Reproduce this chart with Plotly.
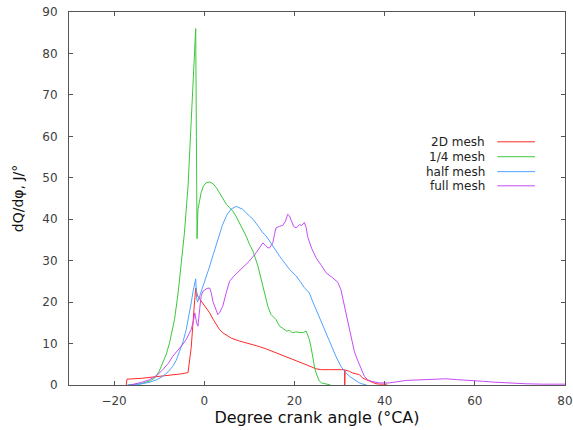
import plotly.graph_objects as go

# Heat release rate vs crank angle for four mesh resolutions
mesh_2d_x = [-17.3, -17.15, -14.0, -11.4, -8.0, -5.0, -3.6, -2.9, -2.3, -1.9, -1.5, -0.5, 0.5, 1.2,
             2.0, 2.6, 3.3, 4.1, 4.9, 6.0, 7.8, 10.0, 11.5, 13.5, 15.2, 17.0, 18.9, 20.5, 22.6, 24.8,
             26.0, 27.8, 29.5, 31.1, 31.15, 31.25, 32.2, 32.9, 34.4, 35.1, 36.3, 37.3, 38.1, 39.0, 40.6]
mesh_2d_y = [0.0, 1.4, 1.6, 1.9, 2.3, 2.7, 3.0, 9.0, 18.0, 23.4, 21.5, 20.0, 18.5, 17.4,
             15.8, 14.6, 13.5, 12.6, 12.0, 11.3, 10.6, 10.0, 9.5, 8.8, 8.1, 7.3, 6.5, 5.8, 4.9, 3.9,
             3.7, 3.7, 3.7, 3.7, 0.0, 3.6, 3.3, 2.9, 2.5, 1.7, 1.1, 0.6, 0.3, 0.2, 0.2]

quarter_x = [-17.0, -14.0, -12.0, -11.0, -10.0, -9.2, -8.4, -7.7, -7.0, -6.6, -5.8, -5.2, -4.4, -3.6,
             -2.9, -2.4, -2.1, -1.9, -1.75, -1.6, -1.4, -1.1, -0.7, -0.2, 0.4, 1.2, 2.0, 2.7, 3.3,
             3.8, 4.4, 4.9, 5.6, 6.3, 7.0, 7.8, 8.5, 9.3, 10.0, 10.8, 11.9, 13.0, 14.1, 14.8, 15.4,
             15.9, 16.7, 17.5, 18.3, 18.9, 19.6, 20.3, 21.1, 21.8, 22.6, 23.3, 23.7, 24.1, 24.5,
             24.8, 25.5, 26.0, 27.0, 28.0]
quarter_y = [0.0, 0.3, 1.0, 1.7, 3.3, 5.3, 7.5, 10.2, 13.5, 15.8, 22.2, 27.9, 36.7, 48.0,
             64.1, 75.0, 80.3, 86.0, 60.0, 35.3, 42.4, 44.5, 46.4, 48.0, 48.8, 49.0, 48.5, 47.6, 46.5,
             45.6, 44.5, 43.6, 42.8, 42.0, 40.8, 39.2, 37.5, 35.9, 34.0, 32.3, 28.7, 23.8, 19.0, 17.0, 16.2,
             15.8, 14.2, 13.6, 13.0, 13.2, 12.6, 12.8, 12.6, 12.6, 13.0, 11.0, 9.0, 6.1, 4.0,
             2.9, 1.0, 0.5, 0.2, 0.0]

half_x = [-17.0, -14.3, -12.0, -10.5, -9.2, -8.0, -7.0, -6.2, -5.5, -4.7, -4.0, -3.4, -2.9, -2.5,
          -2.1, -1.9, -1.7, -1.5, -1.0, 0.0, 1.0, 2.0, 3.0, 4.0, 5.0, 6.0, 7.1, 8.5, 10.0, 10.8,
          12.0, 13.0, 13.7, 15.2, 16.7, 18.9, 20.4, 22.2, 23.3, 24.1, 25.2, 26.3, 27.3, 28.5, 29.2,
          30.3, 31.2, 32.2, 33.3, 34.4, 35.2, 36.0]
half_y = [0.0, 0.2, 0.7, 1.3, 2.1, 3.2, 4.5, 6.0, 8.1, 10.5, 13.4, 16.5, 19.8, 22.5,
          25.0, 25.6, 21.0, 20.0, 21.5, 24.5, 28.0, 31.5, 35.0, 38.5, 41.0, 42.5, 43.1, 42.4, 40.8, 40.0,
          38.3, 36.7, 36.0, 33.6, 31.1, 27.9, 26.3, 23.5, 22.2, 20.0, 17.2, 14.2, 11.5, 8.5, 6.9,
          4.5, 3.2, 2.1, 1.2, 0.5, 0.2, 0.0]

full_x = [-16.5, -14.0, -12.1, -10.5, -9.2, -8.0, -7.0, -6.2, -5.5, -4.7, -4.0, -3.4, -2.9, -2.4,
          -2.1, -1.7, -1.4, -1.0, -0.7, -0.3, 0.1, 0.6, 1.2, 1.6, 1.9, 2.4, 3.0, 3.4, 4.1, 4.8,
          5.6, 6.5, 7.8, 9.0, 10.0, 11.5, 12.3, 13.0, 13.6, 14.1, 14.5, 15.2, 15.6, 15.9, 16.7,
          17.4, 18.0, 18.5, 18.9, 19.3, 19.8, 20.4, 21.1, 21.6, 22.2, 22.6, 22.9, 23.8, 24.8, 26.0,
          27.0, 28.3, 29.6, 30.3, 31.1, 31.5, 32.0, 32.6, 33.3, 34.0, 34.4, 35.0, 35.5, 36.2, 37.0,
          38.8, 41.0, 44.7, 48.4, 51.0, 53.6, 56.0, 58.0, 60.0, 61.7, 64.0, 66.9, 71.3, 75.0, 80.0]
full_y = [0.0, 0.6, 1.3, 2.3, 3.7, 5.2, 6.9, 7.9, 8.9, 9.9, 11.0, 12.2, 13.4, 15.5,
          17.4, 15.0, 14.2, 18.5, 21.4, 22.6, 23.0, 23.3, 23.4, 22.0, 20.2, 18.5, 17.0, 17.5, 19.0, 22.0,
          25.0, 26.2, 27.5, 28.7, 29.9, 31.9, 33.2, 34.3, 33.6, 33.1, 33.1, 34.3, 36.5, 37.9, 38.3,
          38.5, 39.5, 41.2, 40.8, 39.5, 38.3, 37.9, 38.7, 38.5, 39.2, 38.0, 35.9, 33.0, 30.7, 28.8,
          27.1, 26.0, 24.8, 23.0, 19.0, 17.5, 15.0, 12.0, 8.0, 6.0, 5.0, 3.2, 2.1, 1.3, 0.9,
          0.5, 0.5, 1.1, 1.3, 1.4, 1.5, 1.3, 1.1, 1.0, 0.9, 0.7, 0.5, 0.3, 0.2, 0.2]

series_names = ["2D mesh", "1/4 mesh", "half mesh", "full mesh"]
series_colors = ["#ff2a2a", "#3cc83c", "#4ea4ff", "#c64cf5"]
series_data = [(mesh_2d_x, mesh_2d_y), (quarter_x, quarter_y), (half_x, half_y), (full_x, full_y)]

FONT = "DejaVu Sans"

fig = go.Figure()
for name, color, (xs, ys) in zip(series_names, series_colors, series_data):
    fig.add_trace(go.Scatter(x=xs, y=ys, name=name, mode="lines",
                             line=dict(color=color, width=1), showlegend=False))

# gnuplot-style key: right-aligned label followed by a line sample
key_rows_y = [0.652, 0.612, 0.572, 0.534]
for name, color, ky in zip(series_names, series_colors, key_rows_y):
    fig.add_annotation(xref="paper", yref="paper", x=0.842, y=ky, text=name,
                       showarrow=False, xanchor="right", yanchor="middle",
                       font=dict(family=FONT, size=12, color="#222222"))
    fig.add_shape(type="line", xref="paper", yref="paper", x0=0.8635, x1=0.9395,
                  y0=ky, y1=ky, line=dict(color=color, width=1))

axis_common = dict(showline=True, linecolor="#555555", linewidth=1, mirror="ticks",
                   ticks="inside", ticklen=4, tickcolor="#555555", showgrid=False,
                   zeroline=False, tickfont=dict(family=FONT, size=12, color="#404040"))

fig.update_xaxes(range=[-30, 80], tick0=0, dtick=20, ticklabelstandoff=5,
                 title=dict(text="Degree crank angle (°CA)", standoff=4,
                            font=dict(family=FONT, size=16, color="#111111")),
                 **axis_common)
fig.update_yaxes(range=[0, 90], tick0=0, dtick=10, ticklabelstandoff=8,
                 title=dict(text="dQ/dφ, J/°", standoff=15,
                            font=dict(family=FONT, size=14, color="#111111")),
                 **axis_common)

fig.update_layout(width=573, height=430, margin=dict(l=69, r=8, t=12, b=45, autoexpand=False),
                  plot_bgcolor="white", paper_bgcolor="white",
                  font=dict(family=FONT))

fig.write_html("out.html")
